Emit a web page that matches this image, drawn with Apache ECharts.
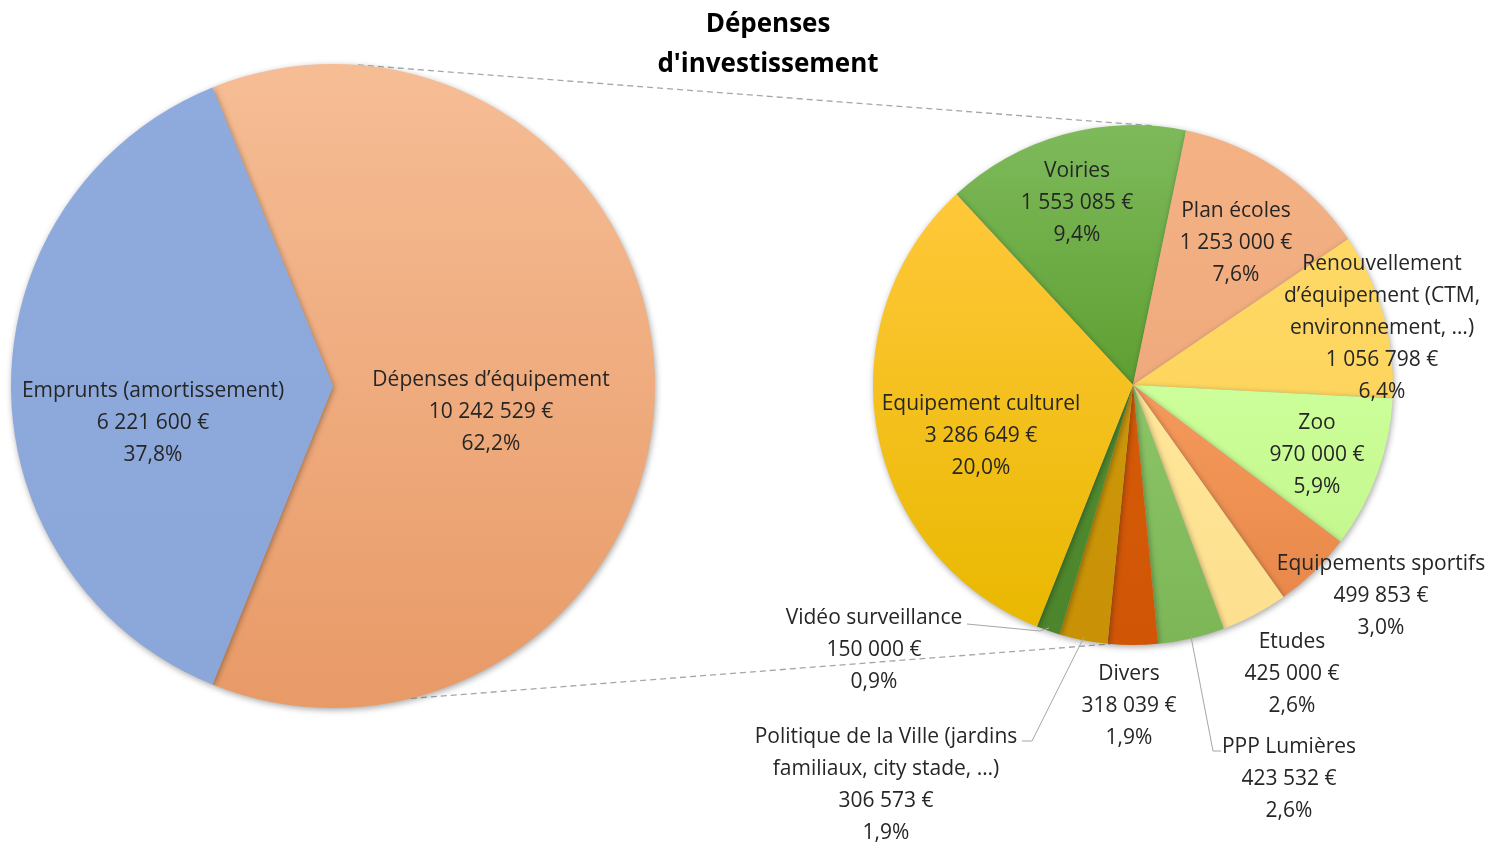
<!DOCTYPE html>
<html>
<head>
<meta charset="utf-8">
<script src="https://cdn.jsdelivr.net/npm/echarts@6/dist/echarts.min.js"></script>
<style>html,body{margin:0;padding:0;background:#fff}#c{width:1504px;height:844px}</style>
</head>
<body>
<div id="c"></div>
<script>
// ---------- DATA ----------
const titleText = "Dépenses\nd'investissement";
const mainNames = ["Dépenses d’équipement", "Emprunts (amortissement)"];
const mainValues = [10242529, 6221600];
const detailNames = [
  "Voiries",
  "Plan écoles",
  "Renouvellement\nd’équipement (CTM,\nenvironnement, …)",
  "Zoo",
  "Equipements sportifs",
  "Etudes",
  "PPP Lumières",
  "Divers",
  "Politique de la Ville (jardins\nfamiliaux, city stade, …)",
  "Vidéo surveillance",
  "Equipement culturel"
];
const detailValues = [1553085, 1253000, 1056798, 970000, 499853, 425000, 423532, 318039, 306573, 150000, 3286649];

// ---------- STYLE / LAYOUT ----------
const mainColors = [["#F6BD95", "#E89A67"], ["#8FAADC", "#8BA6D8"]];
const detailColors = [
  ["#7EBA5B", "#5E9F31"],
  ["#F4B284", "#EFAA7C"],
  ["#FFD966", "#FDD55E"],
  ["#CCFF99", "#C4F78E"],
  ["#F59A5C", "#E8894B"],
  ["#FFE699", "#FDE08F"],
  ["#8CC567", "#7DB657"],
  ["#D65A07", "#D05606"],
  ["#CD970A", "#C99206"],
  ["#528D30", "#4C852B"],
  ["#FFC83A", "#E9B800"]
];
const L = { cx: 333, cy: 386, r: 322 };
const R = { cx: 1133, cy: 385, r: 260 };
const detailStartCw = -42.8; // first slice starts this many degrees clockwise from 12 o'clock
// label anchor positions (centre of text block)
const mainLabelPos = [[491, 412], [153, 423]];
const detailLabelPos = [
  [1077, 203], [1236, 243], [1382, 328], [1317, 455], [1381, 596],
  [1292, 674], [1289, 779], [1129, 706], [886, 785], [874, 650], [981, 436]
];
// leader lines: index -> [elbow point, end point next to the text]
const leaders = {
  6: [[1213, 751], [1221, 751]],
  8: [[1032, 741], [1022, 741]],
  9: [[1040, 631], [967, 624]]
};

const grandTotal = mainValues.reduce((a, b) => a + b, 0);
function fmtNum(v) { return String(v).replace(/\B(?=(\d{3})+(?!\d))/g, " "); }
function fmtPct(v) { return (v / grandTotal * 100).toFixed(1).replace(".", ",") + "%"; }
function grad(c) {
  return new echarts.graphic.LinearGradient(0, 0, 0, 1, [{ offset: 0, color: c[0] }, { offset: 1, color: c[1] }]);
}
function deg(a) { return a * Math.PI / 180; }
function pt(p, angCwFromTop, rr) {
  const r = rr == null ? p.r : rr;
  return [p.cx + r * Math.sin(deg(angCwFromTop)), p.cy - r * Math.cos(deg(angCwFromTop))];
}

const mainSum = mainValues.reduce((a, b) => a + b, 0);
const detailSum = detailValues.reduce((a, b) => a + b, 0);
const empAngle = mainValues[1] / mainSum * 360;
// Emprunts slice is centred on 9 o'clock; Dépenses starts at the upper boundary
const depStartMath = 180 - empAngle / 2;

// mid angle (clockwise from top) of each detail slice
const detailMid = [];
{
  let acc = 0;
  detailValues.forEach(v => {
    const a = v / detailSum * 360;
    detailMid.push(detailStartCw + acc + a / 2);
    acc += a;
  });
}

// tangent angle for top connector
const tanA = Math.acos((L.r - R.r) / (R.cx - L.cx)) * 180 / Math.PI;
const topAng = 90 - tanA;
const topL = pt(L, topAng), topR = pt(R, topAng);
const botL = pt(L, 166), botR = pt(R, 185);

const graphics = [
  { type: 'line', z: 0, shape: { x1: topL[0], y1: topL[1], x2: topR[0], y2: topR[1] },
    style: { stroke: '#a6a6a6', lineWidth: 1.3, lineDash: [6, 4] } },
  { type: 'line', z: 0, shape: { x1: botL[0], y1: botL[1], x2: botR[0], y2: botR[1] },
    style: { stroke: '#a6a6a6', lineWidth: 1.3, lineDash: [6, 4] } }
];
Object.keys(leaders).forEach(k => {
  const i = +k;
  const start = pt(R, detailMid[i], R.r - 3);
  graphics.push({
    type: 'polyline', z: 10,
    shape: { points: [start].concat(leaders[i]) },
    style: { stroke: '#a6a6a6', lineWidth: 1, fill: null }
  });
});

const labelBase = {
  show: true,
  position: 'outside',
  fontFamily: "'Open Sans', 'Noto Sans', sans-serif",
  fontSize: 21,
  lineHeight: 32,
  color: '#262626',
  align: 'center',
  width: 420,
  overflow: 'none'
};

const option = {
  backgroundColor: '#fff',
  animation: false,
  title: {
    text: titleText,
    left: 763,
    top: 0,
    textAlign: 'center',
    textStyle: {
      fontFamily: "'Open Sans', 'Noto Sans', sans-serif",
      fontWeight: 'bold',
      fontSize: 26,
      lineHeight: 40,
      color: '#000'
    }
  },
  graphic: graphics,
  series: [
    {
      type: 'pie',
      center: [L.cx, L.cy],
      radius: L.r,
      startAngle: depStartMath,
      clockwise: true,
      silent: true,
      itemStyle: { borderWidth: 0, shadowBlur: 6, shadowColor: 'rgba(0,0,0,0.35)', shadowOffsetX: 1, shadowOffsetY: 2 },
      label: Object.assign({}, labelBase, {
        formatter: p => mainNames[p.dataIndex] + "\n" + fmtNum(mainValues[p.dataIndex]) + " €\n" + fmtPct(mainValues[p.dataIndex])
      }),
      labelLine: { show: false },
      labelLayout: p => ({ x: mainLabelPos[p.dataIndex][0], y: mainLabelPos[p.dataIndex][1], align: 'center', verticalAlign: 'middle' }),
      data: mainValues.map((v, i) => ({ name: mainNames[i], value: v, itemStyle: { color: grad(mainColors[i]) } }))
    },
    {
      type: 'pie',
      center: [R.cx, R.cy],
      radius: R.r,
      startAngle: 90 - detailStartCw,
      clockwise: true,
      silent: true,
      itemStyle: { borderWidth: 0, shadowBlur: 6, shadowColor: 'rgba(0,0,0,0.35)', shadowOffsetX: 1, shadowOffsetY: 2 },
      label: Object.assign({}, labelBase, {
        formatter: p => detailNames[p.dataIndex] + "\n" + fmtNum(detailValues[p.dataIndex]) + " €\n" + fmtPct(detailValues[p.dataIndex])
      }),
      labelLine: { show: false },
      labelLayout: p => ({ x: detailLabelPos[p.dataIndex][0], y: detailLabelPos[p.dataIndex][1], align: 'center', verticalAlign: 'middle' }),
      data: detailValues.map((v, i) => ({
        name: detailNames[i], value: v,
        itemStyle: { color: grad(detailColors[i]) }
      }))
    }
  ]
};

const chart = echarts.init(document.getElementById('c'), null, { renderer: 'canvas' });
chart.setOption(option);
</script>
</body>
</html>
